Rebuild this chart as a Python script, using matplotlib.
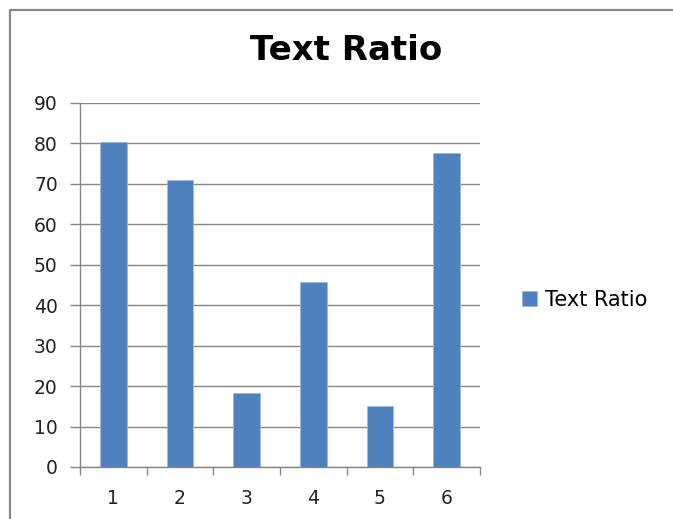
import matplotlib
matplotlib.use("Agg")
import matplotlib.pyplot as plt
from matplotlib.lines import Line2D
from matplotlib.patches import Patch

# Bar values for each sample
categories = ["1", "2", "3", "4", "5", "6"]
text_ratio = [80.4, 70.8, 18.2, 45.6, 15.0, 77.5]
y_ticks = [0, 10, 20, 30, 40, 50, 60, 70, 80, 90]

plt.rcParams['font.family'] = ['DejaVu Sans']

bar_color = '#4F81BD'
grid_color = '#868686'
label_color = '#222222'

fig = plt.figure(figsize=(6.73, 5.19), dpi=100)
ax = fig.add_axes([80 / 673, 52 / 519, 400 / 673, 364.3 / 519])

x = list(range(len(categories)))
ax.bar(x, text_ratio, width=0.4, color=bar_color, edgecolor='#9DB9DD', linewidth=0.6, zorder=3)

ax.set_xlim(-0.5, len(categories) - 0.5)
ax.set_ylim(0, 90)
ax.set_yticks(y_ticks)
ax.set_xticks(x)
ax.set_xticklabels(categories)

# category boundary ticks on the x axis
ax.set_xticks([i - 0.5 for i in range(len(categories) + 1)], minor=True)
ax.tick_params(axis='x', which='major', length=0, pad=16, labelsize=13.5, colors=label_color)
ax.tick_params(axis='x', which='minor', length=6, width=1, color=grid_color)
ax.tick_params(axis='y', length=7, width=1, color=grid_color, pad=9, labelsize=13.5, labelcolor=label_color)

ax.grid(axis='y', color=grid_color, linewidth=1, zorder=0)
for side in ['top', 'right']:
    ax.spines[side].set_visible(False)
for side in ['left', 'bottom']:
    ax.spines[side].set_color(grid_color)
    ax.spines[side].set_linewidth(1)

fig.text(346 / 673, 1 - 51 / 519, 'Text Ratio', ha='center', va='center',
         fontsize=24.5, fontweight='bold', color='black')

handles = [Patch(facecolor=bar_color, edgecolor='#9DB9DD', linewidth=0.6)]
fig.legend(handles, ['Text Ratio'], loc='center left', bbox_to_anchor=(522 / 673, 1 - 300 / 519),
           frameon=False, fontsize=15, handlelength=0.7, handleheight=0.7,
           handletextpad=0.4, borderpad=0, borderaxespad=0)

# outer chart frame (left and top edges)
fig.add_artist(Line2D([10 / 673, 10 / 673, 1.0], [0.0, 1 - 10 / 519, 1 - 10 / 519],
                      transform=fig.transFigure, color='#888888', linewidth=1.6))

fig.savefig('out.png', dpi=100)
